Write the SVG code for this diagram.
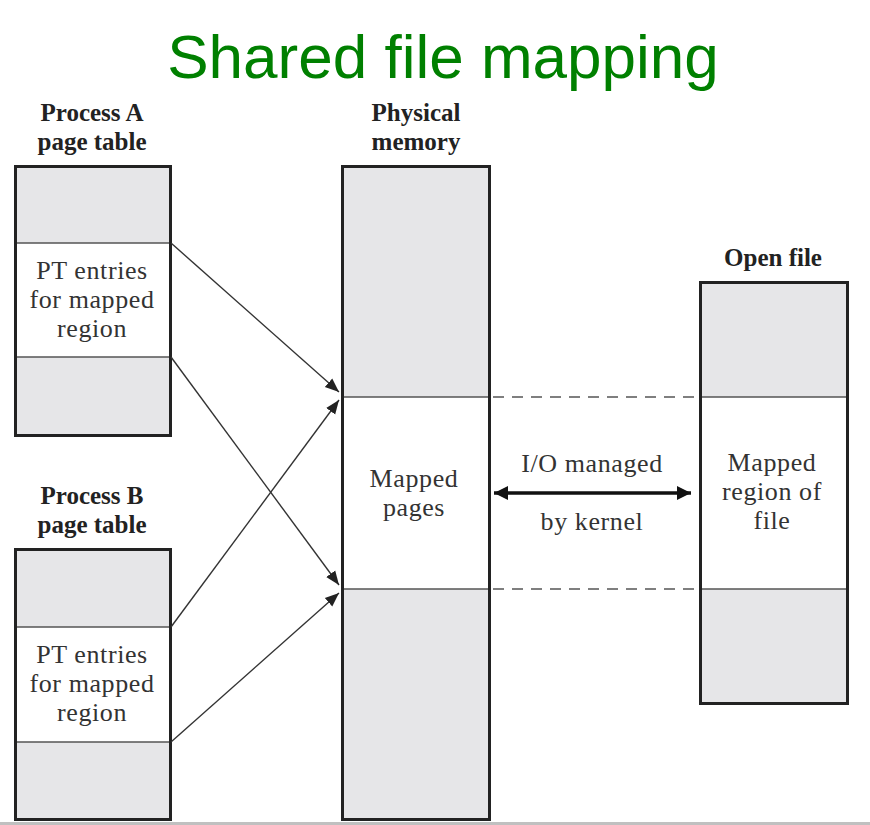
<svg xmlns="http://www.w3.org/2000/svg" width="870" height="825" viewBox="0 0 870 825">
<style>
.box{fill:#e6e6e8;stroke:#222;stroke-width:3}
.mid{fill:#fff}
.div{stroke:#555;stroke-width:1.3}
.hdr{font-family:"Liberation Serif",serif;font-weight:bold;font-size:25px;fill:#222;text-anchor:middle}
.txt{font-family:"Liberation Serif",serif;font-size:26px;letter-spacing:0.6px;fill:#333;text-anchor:middle}
.conn{stroke:#333;stroke-width:1.4;fill:none}
.dash{stroke:#555;stroke-width:1.3;stroke-dasharray:11 8;fill:none}
</style>
<defs>
<marker id="ah" viewBox="0 0 10 10" refX="10" refY="5" markerWidth="14" markerHeight="14" markerUnits="userSpaceOnUse" orient="auto">
<path d="M0,1 L10,5 L0,9 Z" fill="#222"/>
</marker>
<marker id="ah2" viewBox="0 0 10 10" refX="10" refY="5" markerWidth="20" markerHeight="14" markerUnits="userSpaceOnUse" orient="auto-start-reverse">
<path d="M0,0 L10,5 L0,10 Z" fill="#111"/>
</marker>
</defs>
<rect width="870" height="825" fill="#fff"/>
<line x1="0" y1="823.5" x2="870" y2="823.5" stroke="#c0c0c0" stroke-width="3"/>
<text x="443" y="78" font-family="Liberation Sans, Arial, sans-serif" font-size="62" fill="#008000" text-anchor="middle">Shared file mapping</text>

<g id="processA">
<text class="hdr" x="92" y="121">Process A</text>
<text class="hdr" x="92" y="150">page table</text>
<rect class="box" x="15.5" y="166.5" width="155" height="269"/>
<rect class="mid" x="17" y="243" width="152" height="114"/>
<line class="div" x1="17" y1="243" x2="169" y2="243"/>
<line class="div" x1="17" y1="357" x2="169" y2="357"/>
<text class="txt" x="92" y="279">PT entries</text>
<text class="txt" x="92" y="308">for mapped</text>
<text class="txt" x="92" y="337">region</text>
</g>

<g id="processB">
<text class="hdr" x="92" y="504">Process B</text>
<text class="hdr" x="92" y="533">page table</text>
<rect class="box" x="15.5" y="549.5" width="155" height="270"/>
<rect class="mid" x="17" y="627" width="152" height="115"/>
<line class="div" x1="17" y1="627" x2="169" y2="627"/>
<line class="div" x1="17" y1="742" x2="169" y2="742"/>
<text class="txt" x="92" y="663">PT entries</text>
<text class="txt" x="92" y="692">for mapped</text>
<text class="txt" x="92" y="721">region</text>
</g>

<g id="physical">
<text class="hdr" x="416" y="121">Physical</text>
<text class="hdr" x="416" y="150">memory</text>
<rect class="box" x="342.5" y="166.5" width="147" height="653"/>
<rect class="mid" x="344" y="397" width="144" height="192"/>
<line class="div" x1="344" y1="397" x2="488" y2="397"/>
<line class="div" x1="344" y1="589" x2="488" y2="589"/>
<text class="txt" x="414" y="487">Mapped</text>
<text class="txt" x="414" y="516">pages</text>
</g>

<g id="openfile">
<text class="hdr" x="773" y="266">Open file</text>
<rect class="box" x="700.5" y="282.5" width="147" height="421"/>
<rect class="mid" x="702" y="397" width="144" height="192"/>
<line class="div" x1="702" y1="397" x2="846" y2="397"/>
<line class="div" x1="702" y1="589" x2="846" y2="589"/>
<text class="txt" x="772" y="471">Mapped</text>
<text class="txt" x="772" y="500">region of</text>
<text class="txt" x="772" y="529">file</text>
</g>

<g id="connectors">
<line class="conn" x1="171" y1="243" x2="339" y2="392" marker-end="url(#ah)"/>
<line class="conn" x1="171" y1="357" x2="339" y2="585" marker-end="url(#ah)"/>
<line class="conn" x1="171" y1="627" x2="339" y2="400" marker-end="url(#ah)"/>
<line class="conn" x1="171" y1="742" x2="339" y2="593" marker-end="url(#ah)"/>
<line class="dash" x1="493" y1="397" x2="699" y2="397"/>
<line class="dash" x1="493" y1="589" x2="699" y2="589"/>
<line x1="494" y1="493" x2="691" y2="493" stroke="#111" stroke-width="3.5" marker-start="url(#ah2)" marker-end="url(#ah2)"/>
<text class="txt" x="592" y="472">I/O managed</text>
<text class="txt" x="592" y="530">by kernel</text>
</g>
</svg>
